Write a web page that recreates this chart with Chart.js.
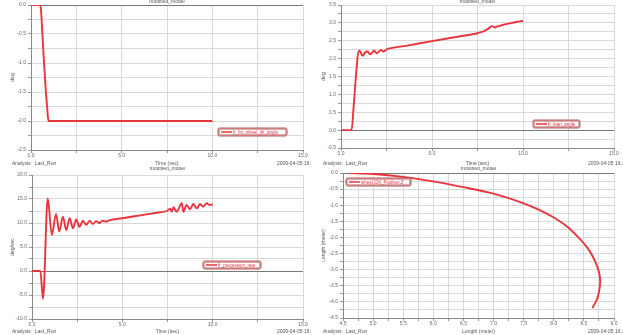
<!DOCTYPE html>
<html>
<head>
<meta charset="utf-8">
<script src="https://cdn.jsdelivr.net/npm/chart.js@4.4.0/dist/chart.umd.min.js"></script>
<style>
  html, body { margin: 0; padding: 0; background: #fff; }
  #wrap { position: relative; width: 623px; height: 335px; overflow: hidden; }
  canvas { position: absolute; }
</style>
</head>
<body>
<div id="wrap">
  <canvas id="c1" width="311" height="167" style="left:0;top:0"></canvas>
  <canvas id="c2" width="312" height="167" style="left:311px;top:0"></canvas>
  <canvas id="c3" width="311" height="168" style="left:0;top:167px"></canvas>
  <canvas id="c4" width="312" height="168" style="left:311px;top:167px"></canvas>
</div>
<script>
// ---- data ----
// wheel tilt angle (deg) vs time (sec)
const tiltTime  = [0, 0.5, 0.55, 0.62, 0.7, 0.8, 0.9, 0.96, 1.0, 10.0];
const tiltAngle = [0, 0, -0.08, -0.45, -0.9, -1.4, -1.8, -2.0, -2.0, -2.0];

// lean angle (deg) vs time (sec)
const leanTime  = [0, 0.58, 0.7, 0.85, 0.97, 1.05, 1.19, 1.32, 1.46, 1.6, 1.83, 1.96, 2.2, 2.3, 2.56,
                   3.5, 5.0, 6.5, 7.5, 7.7, 7.9, 8.1, 8.3, 8.45, 8.6, 8.8, 9.0, 9.5, 10.0];
const leanAngle = [0, 0, 0.7, 1.7, 2.22, 2.2, 2.08, 2.17, 2.2, 2.12, 2.22, 2.15, 2.24, 2.2, 2.27,
                   2.35, 2.49, 2.62, 2.71, 2.74, 2.78, 2.84, 2.91, 2.87, 2.9, 2.93, 2.96, 3.01, 3.06];

// precession rate (deg/sec) vs time (sec)
const precTime = [0, 0.46, 0.61, 0.87, 1.1, 1.33, 1.51, 1.71, 1.9, 2.08, 2.27, 2.45, 2.63, 2.82, 3.0,
                  3.19, 3.37, 3.55, 3.73, 3.9, 4.1, 4.3, 5.0, 6.0, 7.0, 7.46, 7.64, 7.74, 7.83, 8.0,
                  8.29, 8.38, 8.56, 8.75, 8.93, 9.12, 9.3, 9.48, 9.67, 9.85, 10.0];
const precRate = [0, 0, -5.8, 15.1, 7.5, 11.9, 8.2, 11.3, 8.5, 11.0, 8.9, 10.75, 9.2, 10.5, 9.6,
                  10.5, 9.8, 10.4, 10.0, 10.5, 10.3, 10.6, 11.0, 11.6, 12.2, 12.5, 13.0, 12.4, 13.3, 12.35,
                  14.1, 12.35, 13.75, 12.85, 13.95, 13.05, 13.95, 13.4, 14.1, 13.75, 13.9];

// wheel CM position: lateral vs longitudinal (meter)
const posX = [4.6, 5.0, 5.5, 6.0, 6.5, 7.0, 7.5, 7.8, 8.0, 8.2, 8.4, 8.55, 8.65, 8.72, 8.76, 8.77, 8.75, 8.71, 8.64];
const posZ = [0, -0.03, -0.12, -0.26, -0.44, -0.64, -0.94, -1.18, -1.38, -1.63, -1.98, -2.3, -2.6, -2.9, -3.15, -3.4, -3.7, -3.95, -4.19];

const RED = 'rgb(232,52,60)';
const FONT = { family: 'Liberation Sans', size: 5 };

const isMajor = (v, step) => {
    const r = v / step;
    return Math.abs(r - Math.round(r)) < 1e-6;
};

function axis(pos, min, max, step, labelStep, title, size, darkZero) {
    return {
        type: 'linear',
        position: pos,
        min: min,
        max: max,
        afterFit: s => { if (pos === 'left') s.width = size; else s.height = size; },
        ticks: {
            stepSize: step,
            autoSkip: false,
            maxRotation: 0,
            font: FONT,
            color: '#666',
            padding: pos === 'left' ? 2 : 0,
            callback: v => isMajor(v, labelStep) ? v.toFixed(1) : ''
        },
        grid: {
            color: c => (darkZero && c.tick && Math.abs(c.tick.value) < 1e-9) ? '#777' : '#d9d9d9',
            lineWidth: 1,
            tickLength: 3,
            tickColor: '#999'
        },
        border: { color: '#888' },
        title: {
            display: true,
            text: title,
            font: FONT,
            color: '#555',
            padding: pos === 'left' ? { top: 10, bottom: 0 } : { top: 0, bottom: 0 }
        }
    };
}

// title, footer and legend box drawn on every panel
const panelText = {
    id: 'panelText',
    afterDraw(chart, args, opts) {
        const { ctx, chartArea: a, height } = chart;
        ctx.save();
        ctx.font = '5px "Liberation Sans"';
        ctx.fillStyle = '#555';
        ctx.textBaseline = 'middle';
        ctx.textAlign = 'center';
        ctx.fillText('modified_model', (a.left + a.right) / 2, 2);
        ctx.textAlign = 'left';
        ctx.fillText('Analysis:  Last_Run', 12, height - 3);
        ctx.fillText('2009-04-05 16:18:52', a.right - 26, height - 3);

        const b = opts.box;
        ctx.fillStyle = '#fff';
        ctx.strokeStyle = '#a33';
        ctx.lineWidth = 0.8;
        ctx.beginPath();
        ctx.roundRect(b.x, b.y, b.w, b.h, 1.5);
        ctx.fill();
        ctx.stroke();
        ctx.beginPath();
        ctx.roundRect(b.x + 1, b.y + 1, b.w - 2, b.h - 2, 1);
        ctx.stroke();
        ctx.strokeStyle = RED;
        ctx.lineWidth = 1.5;
        ctx.beginPath();
        ctx.moveTo(b.x + 3, b.y + b.h / 2);
        ctx.lineTo(b.x + 14, b.y + b.h / 2);
        ctx.stroke();
        ctx.fillStyle = RED;
        ctx.font = '4.5px "Liberation Sans"';
        ctx.fillText(chart.data.datasets[0].label, b.x + 15, b.y + b.h / 2 + 0.5);
        ctx.restore();
    }
};

function makePanel(id, opt) {
    const points = opt.xs.map((x, i) => ({ x: x, y: opt.ys[i] }));
    new Chart(document.getElementById(id), {
        type: 'scatter',
        data: {
            datasets: [{
                label: opt.label,
                data: points,
                showLine: true,
                borderColor: RED,
                backgroundColor: RED,
                borderWidth: 1.9,
                pointRadius: 0,
                cubicInterpolationMode: opt.monotone ? 'monotone' : 'default',
                tension: opt.monotone ? 0 : 0.3
            }]
        },
        options: {
            responsive: false,
            animation: false,
            devicePixelRatio: 1,
            layout: { padding: { top: opt.top, right: opt.right, left: 0, bottom: 0 } },
            plugins: {
                legend: { display: false },
                tooltip: { enabled: false },
                panelText: { box: opt.box }
            },
            scales: {
                x: axis('bottom', opt.x[0], opt.x[1], opt.x[2], opt.x[3], opt.xTitle, opt.xH, false),
                y: axis('left', opt.y[0], opt.y[1], opt.y[2], opt.y[3], opt.yTitle, opt.yW, true)
            }
        },
        plugins: [panelText]
    });
}

makePanel('c1', {
    xs: tiltTime, ys: tiltAngle, label: 'fr_frc_wheel_tilt_angle', monotone: true,
    x: [0, 15, 2.5, 5], y: [-2.5, 0, 0.25, 0.5], xTitle: 'Time (sec)', yTitle: 'deg',
    top: 5, right: 8, xH: 17, yW: 31, box: { x: 218, y: 128, w: 69, h: 8 }
});
makePanel('c2', {
    xs: leanTime, ys: leanAngle, label: 'fr_lean_angle', monotone: true,
    x: [0, 15, 2.5, 5], y: [-0.5, 3.5, 0.25, 0.5], xTitle: 'Time (sec)', yTitle: 'deg',
    top: 5, right: 9, xH: 19, yW: 30, box: { x: 222, y: 120, w: 47, h: 8 }
});
makePanel('c3', {
    xs: precTime, ys: precRate, label: 'fr_precession_rate', monotone: true,
    x: [0, 15, 2.5, 5], y: [-10, 20, 2.5, 5], xTitle: 'Time (sec)', yTitle: 'deg/sec',
    top: 8, right: 8, xH: 16, yW: 32, box: { x: 203, y: 94, w: 58, h: 8 }
});
makePanel('c4', {
    xs: posX, ys: posZ, label: 'wheel.CM_Position.Z', monotone: false,
    x: [4.5, 9.0, 0.25, 0.5], y: [-4.5, 0, 0.25, 0.5], xTitle: 'Length (meter)', yTitle: 'Length (meter)',
    top: 6, right: 9, xH: 17, yW: 32, box: { x: 35, y: 11, w: 65, h: 8 }
});
</script>
</body>
</html>
